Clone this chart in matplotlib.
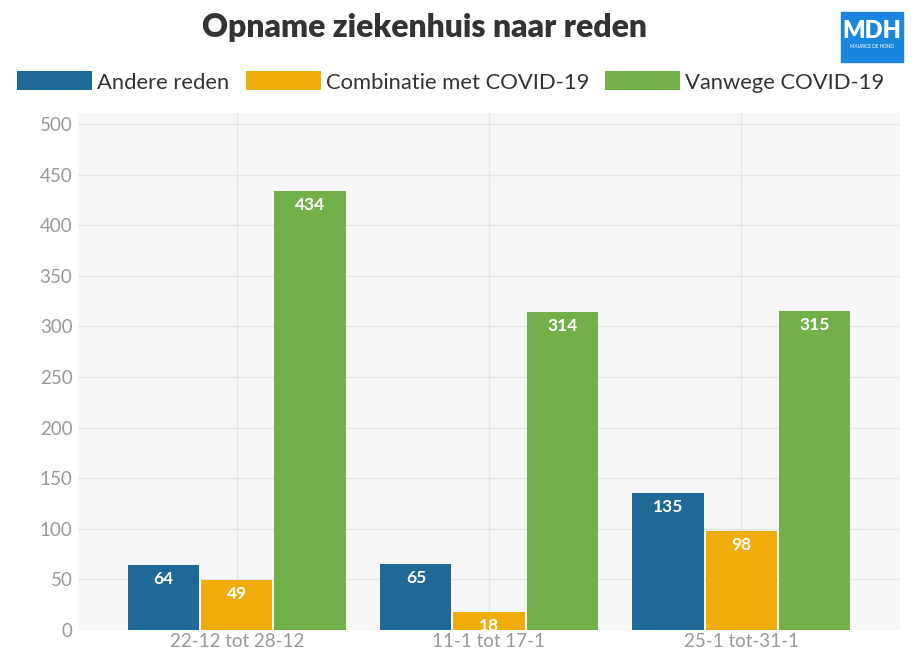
import matplotlib
matplotlib.use("Agg")
import matplotlib.pyplot as plt
import numpy as np
from matplotlib.patches import Rectangle

categories = ["22-12 tot 28-12", "11-1 tot 17-1", "25-1 tot-31-1"]
series_names = ["Andere reden", "Combinatie met COVID-19", "Vanwege COVID-19"]
andere = [64, 65, 135]
combinatie = [49, 18, 98]
vanwege = [434, 314, 315]
colors = ["#1f6997", "#f0ac0a", "#72b04a"]
yticks = [0, 50, 100, 150, 200, 250, 300, 350, 400, 450, 500]

plt.rcParams['font.family'] = ['Lato', 'DejaVu Sans']

W, H = 923, 665
fig = plt.figure(figsize=(W/100, H/100), dpi=100)
ax = fig.add_axes([78/W, 1-630/H, (900-78)/W, (630-113)/H])
ax.set_facecolor("#f7f7f7")

x = np.arange(len(categories))
bw = 0.282
step = 0.29
data = [andere, combinatie, vanwege]
for i, (vals, c) in enumerate(zip(data, colors)):
    bars = ax.bar(x + (i-1)*step, vals, width=bw, color=c, label=series_names[i], zorder=3)
    for b, v in zip(bars, vals):
        ax.text(b.get_x()+b.get_width()/2, v - 6, str(v), ha='center', va='top',
                color='white', fontsize=12.5, fontweight='bold', zorder=4)

ax.set_xlim(-0.63, 2.63)
ax.set_ylim(0, 511)
ax.set_yticks(yticks)
ax.set_xticks(x)
ax.set_xticklabels(categories)
ax.grid(True, color="#e6e6e6", linewidth=1, zorder=0)
for s in ax.spines.values():
    s.set_visible(False)
ax.tick_params(axis='both', length=0, colors="#999999", labelsize=13.5)
ax.tick_params(axis='x', pad=2)
ax.tick_params(axis='y', pad=4)

fig.text(424/W, 1-28/H, "Opname ziekenhuis naar reden", ha='center', va='center',
         fontsize=23, fontweight='heavy', color="#333333")

leg = fig.legend(loc='center', bbox_to_anchor=(451/W, 1-82/H), ncol=3, frameon=False,
                 fontsize=15.8, handlelength=3.42, handleheight=0.95, columnspacing=0.73,
                 handletextpad=0.23, labelcolor="#333333", borderaxespad=0, borderpad=0)

# logo
fig.patches.append(Rectangle((841/W, 1-62/H), 62/W, 50/H, transform=fig.transFigure,
                             color="#1a86e0", zorder=5))
fig.text(872/W, 1-31/H, "MDH", ha='center', va='center', color='white', fontsize=17,
         fontweight='heavy', zorder=6)
fig.text(872/W, 1-46/H, "MAURICE DE HOND", ha='center', va='center', color='white',
         fontsize=3.4, zorder=6)

fig.savefig("out.png", dpi=100, facecolor='white')
